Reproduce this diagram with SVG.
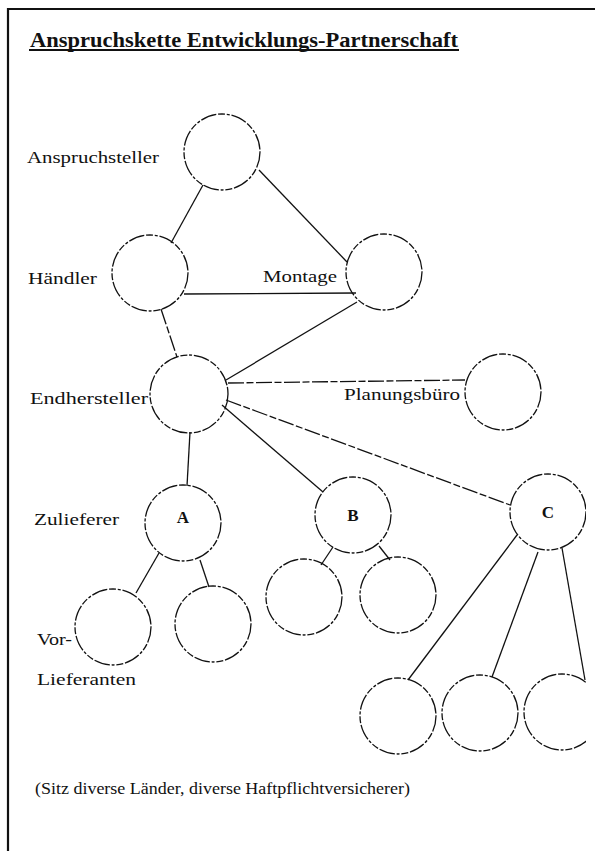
<svg xmlns="http://www.w3.org/2000/svg" width="595" height="851" viewBox="0 0 595 851">
<defs>
<style>
.frame{stroke:#111;stroke-width:2.2;fill:none}
.node{fill:none;stroke:#111;stroke-width:1.3;stroke-dasharray:16 1.8 7 1.8 3 1.8}
.conn line{stroke:#111;stroke-width:1.3}
.dash{stroke-dasharray:16 2.5 7 2.5}
.lbl{font-family:"Liberation Serif","Times New Roman",serif;font-size:16px;fill:#111}
.ltr{font-family:"Liberation Serif","Times New Roman",serif;font-size:17px;font-weight:bold;fill:#111}
.title{font-family:"Liberation Serif","Times New Roman",serif;font-size:21px;font-weight:bold;fill:#111}
</style>
<clipPath id="page"><rect x="0" y="0" width="586" height="851"/></clipPath>
</defs>
<rect width="595" height="851" fill="#fff"/>
<g id="frame">
<line class="frame" x1="8" y1="9" x2="595" y2="9"/>
<line class="frame" x1="8" y1="8" x2="8" y2="851"/>
</g>
<g id="title">
<text class="title" x="30" y="47" textLength="428" lengthAdjust="spacingAndGlyphs">Anspruchskette Entwicklungs-Partnerschaft</text>
<line x1="29" y1="50" x2="459" y2="50" stroke="#111" stroke-width="2"/>
</g>
<g id="connectors" class="conn" clip-path="url(#page)">
<line x1="203" y1="185" x2="171" y2="243"/>
<line x1="259" y1="170" x2="347" y2="262"/>
<line x1="184" y1="294" x2="356" y2="293"/>
<line class="dash" x1="161" y1="309" x2="177" y2="357"/>
<line x1="357" y1="302" x2="226" y2="380"/>
<line class="dash" x1="228" y1="383" x2="465" y2="380"/>
<line x1="190" y1="432" x2="187" y2="486"/>
<line x1="222" y1="405" x2="323" y2="492"/>
<line class="dash" x1="226" y1="400" x2="510" y2="505"/>
<line x1="159" y1="553" x2="136" y2="593"/>
<line x1="200" y1="560" x2="209" y2="587"/>
<line x1="333" y1="547" x2="321" y2="565"/>
<line x1="379" y1="546" x2="390" y2="560"/>
<line x1="517" y1="535" x2="408" y2="680"/>
<line x1="538" y1="552" x2="492" y2="677"/>
<line x1="562" y1="548" x2="585" y2="680"/>
</g>
<g id="anspruchsteller"><circle class="node" cx="222" cy="152" r="38"/><text class="lbl" x="27" y="163" textLength="132" lengthAdjust="spacingAndGlyphs">Anspruchsteller</text></g>
<g id="haendler"><circle class="node" cx="150" cy="273" r="38"/><text class="lbl" x="28" y="284" textLength="69" lengthAdjust="spacingAndGlyphs">Händler</text></g>
<g id="montage"><circle class="node" cx="384" cy="272" r="38"/><text class="lbl" x="263" y="282" textLength="74" lengthAdjust="spacingAndGlyphs">Montage</text></g>
<g id="endhersteller"><circle class="node" cx="189" cy="394" r="39"/><text class="lbl" x="30" y="404" textLength="118" lengthAdjust="spacingAndGlyphs">Endhersteller</text></g>
<g id="planungsbuero"><circle class="node" cx="503" cy="392" r="38"/><text class="lbl" x="344" y="400" textLength="116" lengthAdjust="spacingAndGlyphs">Planungsbüro</text></g>
<g id="zulieferer-a"><circle class="node" cx="183" cy="523" r="38"/><text class="lbl" x="34" y="525" textLength="85" lengthAdjust="spacingAndGlyphs">Zulieferer</text><text class="ltr" x="183" y="523" text-anchor="middle">A</text></g>
<g id="zulieferer-b"><circle class="node" cx="353" cy="515" r="38"/><text class="ltr" x="353" y="521" text-anchor="middle">B</text></g>
<g id="zulieferer-c" clip-path="url(#page)"><circle class="node" cx="548" cy="512" r="38"/><text class="ltr" x="548" y="518" text-anchor="middle">C</text></g>
<g id="vorlieferant-a1"><circle class="node" cx="113" cy="627" r="38"/><text class="lbl" x="37" y="645" textLength="35" lengthAdjust="spacingAndGlyphs">Vor-</text><text class="lbl" x="37" y="685" textLength="99" lengthAdjust="spacingAndGlyphs">Lieferanten</text></g>
<g id="vorlieferant-a2"><circle class="node" cx="213" cy="624" r="38"/></g>
<g id="vorlieferant-b1"><circle class="node" cx="304" cy="597" r="38"/></g>
<g id="vorlieferant-b2"><circle class="node" cx="398" cy="595" r="38"/></g>
<g id="vorlieferant-c1"><circle class="node" cx="398" cy="716" r="38"/></g>
<g id="vorlieferant-c2"><circle class="node" cx="480" cy="713" r="38"/></g>
<g id="vorlieferant-c3" clip-path="url(#page)"><circle class="node" cx="562" cy="712" r="38"/></g>
<g id="note"><text class="lbl" x="35" y="794" textLength="375" lengthAdjust="spacingAndGlyphs">(Sitz diverse Länder, diverse Haftpflichtversicherer)</text></g>
</svg>
